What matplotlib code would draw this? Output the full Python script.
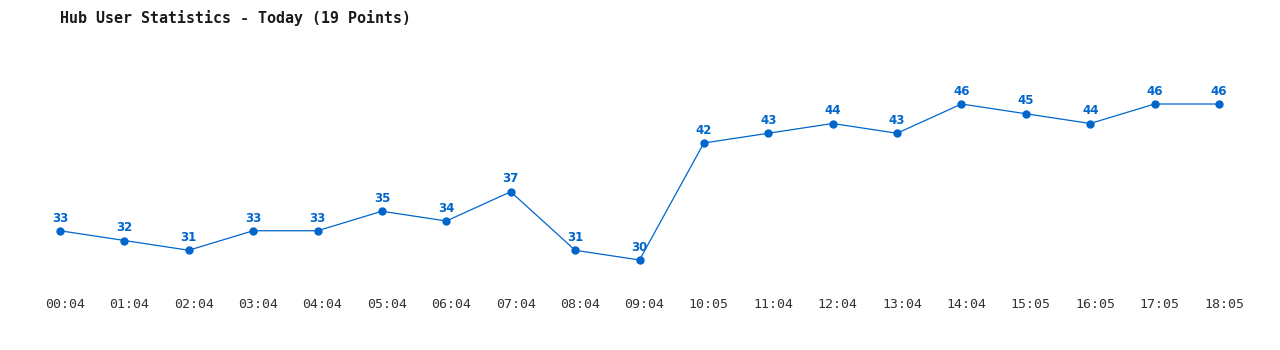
import matplotlib
matplotlib.use('Agg')
import matplotlib.pyplot as plt
from matplotlib.transforms import ScaledTranslation

# Hub user counts, one per hour
times = ['00:04', '01:04', '02:04', '03:04', '04:04', '05:04', '06:04', '07:04', '08:04', '09:04',
         '10:05', '11:04', '12:04', '13:04', '14:04', '15:05', '16:05', '17:05', '18:05']
users = [33, 32, 31, 33, 33, 35, 34, 37, 31, 30, 42, 43, 44, 43, 46, 45, 44, 46, 46]

line_color = '#0066cc'

fig = plt.figure(figsize=(12.8, 3.5), dpi=100)
W, H = 1280, 350
# axes box in pixels: x 60..1219, y 104..260 (data 30..46)
ax = fig.add_axes([60 / W, (H - 260) / H, (1219 - 60) / W, 156 / H])

x = list(range(len(times)))
ax.plot(x, users, color=line_color, linewidth=0.9, marker='o', markersize=5,
        clip_on=False)

for xi, v in zip(x, users):
    ax.annotate(str(v), (xi, v), xytext=(0, 4.5), textcoords='offset points',
                ha='center', va='bottom', fontsize=8.5, fontweight='bold',
                color=line_color, family='DejaVu Sans')

ax.set_xlim(0, len(times) - 1)
ax.set_ylim(min(users), max(users))
ax.set_xticks(x)
ax.set_xticklabels(times, family='DejaVu Sans Mono', fontsize=9.5, color='#333333')
ax.tick_params(axis='x', length=0, pad=27)
shift = ScaledTranslation(5 / 100, 0, fig.dpi_scale_trans)
for lbl in ax.get_xticklabels():
    lbl.set_transform(lbl.get_transform() + shift)
ax.set_yticks([])
for s in ax.spines.values():
    s.set_visible(False)

fig.text(60 / W, 1 - 18 / H, 'Hub User Statistics - Today (19 Points)',
         family='DejaVu Sans Mono', fontsize=10.8, fontweight='bold',
         ha='left', va='center', color='#1a1a1a')

fig.savefig('out.png', dpi=100, facecolor='white')
